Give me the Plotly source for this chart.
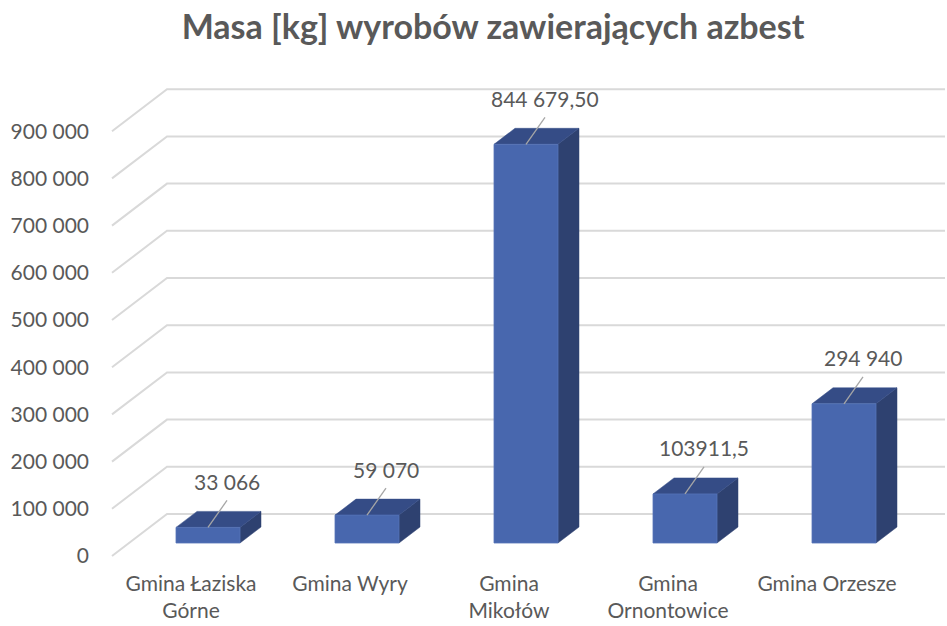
import plotly.graph_objects as go

# ---- data ----
categories = ["Gmina Łaziska<br>Górne", "Gmina Wyry", "Gmina<br>Mikołów",
              "Gmina<br>Ornontowice", "Gmina Orzesze"]
values = [33066, 59070, 844679.50, 103911.5, 294940]
value_labels = ["33 066", "59 070", "844 679,50", "103911,5", "294 940"]
y_ticks = [0, 100000, 200000, 300000, 400000, 500000, 600000, 700000, 800000, 900000]
y_tick_labels = ["0", "100 000", "200 000", "300 000", "400 000", "500 000",
                 "600 000", "700 000", "800 000", "900 000"]

# ---- geometry (pixel -> data unit conversion) ----
W, H = 947, 626
ML, MR, MT, MB = 100, 0, 70, 60
PX_PER_CAT = 159.0
PX_PER_VAL = 47.2 / 100000.0
X0_PX = 208.0   # pixel of first category
Y0_PX = 543.0   # pixel of value 0 at bar front

def dxu(px):
    return px / PX_PER_CAT

def dyu(px):
    return px / PX_PER_VAL

x_range = [(ML - X0_PX) / PX_PER_CAT, (W - MR - X0_PX) / PX_PER_CAT]
y_range = [-(H - MB - Y0_PX) / PX_PER_VAL, (Y0_PX - MT) / PX_PER_VAL]

text_col = "#595959"
grid_col = "#D9D9D9"
front_col = "#4867AE"
top_col = "#354C86"
side_col = "#2E4170"
FONT = "Lato"

fig = go.Figure()

# floor / wall gridlines in perspective
front_off_y = dyu(-13)     # front floor relative to bar base
back_off_y = dyu(29)       # back wall relative to bar base
gx_front = dxu(112 - X0_PX)
gx_back = dxu(167 - X0_PX)
gx_end = dxu(945 - X0_PX)
for v in y_ticks:
    fig.add_trace(go.Scatter(
        x=[gx_front, gx_back, gx_end],
        y=[v + front_off_y, v + back_off_y, v + back_off_y],
        mode="lines", line=dict(color=grid_col, width=2),
        hoverinfo="skip", showlegend=False))

# 3D bars
half_w = dxu(32)
ddx = dxu(21)
ddy = dyu(16)
for i, v in enumerate(values):
    xl, xr = i - half_w, i + half_w
    # right side
    fig.add_trace(go.Scatter(
        x=[xr, xr + ddx, xr + ddx, xr, xr],
        y=[0, ddy, v + ddy, v, 0],
        fill="toself", fillcolor=side_col, mode="lines",
        line=dict(color=side_col, width=0.5),
        hoverinfo="skip", showlegend=False))
    # top
    fig.add_trace(go.Scatter(
        x=[xl, xr, xr + ddx, xl + ddx, xl],
        y=[v, v, v + ddy, v + ddy, v],
        fill="toself", fillcolor=top_col, mode="lines",
        line=dict(color=top_col, width=0.5),
        hoverinfo="skip", showlegend=False))
    # front
    fig.add_trace(go.Scatter(
        x=[xl, xr, xr, xl, xl],
        y=[0, 0, v, v, 0],
        fill="toself", fillcolor=front_col, mode="lines",
        line=dict(color="#5673B8", width=0.8),
        hoverinfo="skip", showlegend=False))
    # leader line
    fig.add_trace(go.Scatter(
        x=[i, i + dxu(19)], y=[v, v + dyu(27)],
        mode="lines", line=dict(color="#A6A6A6", width=1.3),
        hoverinfo="skip", showlegend=False))
    fig.add_annotation(
        x=i + dxu(19), y=v + dyu(46), text=value_labels[i],
        showarrow=False, xanchor="center", yanchor="middle",
        font=dict(family=FONT, size=21, color=text_col))

fig.update_layout(
    width=W, height=H,
    margin=dict(l=ML, r=MR, t=MT, b=MB),
    paper_bgcolor="white", plot_bgcolor="white",
    title=dict(text="<b>Masa [kg] wyrobów zawierających azbest</b>",
               x=493 / W, xanchor="center", y=1 - 27 / H, yanchor="middle",
               font=dict(family=FONT, size=34, color=text_col)),
    xaxis=dict(range=x_range, showgrid=False, zeroline=False, showline=False,
               automargin=False,
               tickmode="array",
               tickvals=[i + dxu(-17) for i in range(len(categories))],
               ticktext=categories, ticks="", ticklabelstandoff=3,
               tickfont=dict(family=FONT, size=21, color=text_col)),
    yaxis=dict(range=y_range, showgrid=False, zeroline=False, showline=False,
               automargin=False,
               tickmode="array",
               tickvals=[v + front_off_y for v in y_ticks],
               ticktext=y_tick_labels, ticks="", ticklabelstandoff=10,
               tickfont=dict(family=FONT, size=21, color=text_col)),
    font=dict(family=FONT, color=text_col),
)

fig.write_html("out.html", config={"displayModeBar": False},
               post_script="document.body.style.margin='0';")
